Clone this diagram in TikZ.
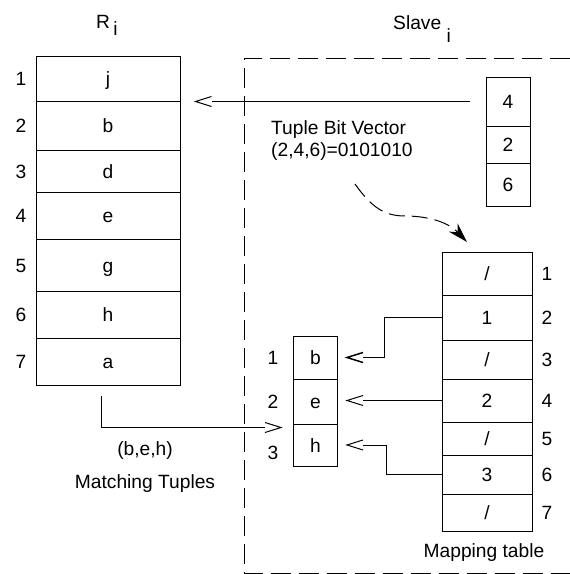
\documentclass[tikz,border=0pt]{standalone}
\usepackage{fontspec}
\setmainfont{Liberation Sans}
\usepackage{tikz}
\usetikzlibrary{arrows.meta}

% open "<" head, the shaft stops at its back
\pgfdeclarearrow{
  name = openvee,
  setup code = {
    \pgfarrowssettipend{0pt}
    \pgfarrowssetlineend{-16pt}
    \pgfarrowssetbackend{-16pt}
    \pgfarrowshullpoint{0pt}{0pt}
    \pgfarrowshullpoint{-16pt}{5pt}
    \pgfarrowshullpoint{-16pt}{-5pt}
  },
  drawing code = {
    \pgfpathmoveto{\pgfqpoint{-16pt}{5pt}}
    \pgfpathlineto{\pgfqpoint{0pt}{0pt}}
    \pgfpathlineto{\pgfqpoint{-16pt}{-5pt}}
    \pgfusepathqstroke
  }
}

\tikzset{
  cell/.style = {draw, line width=1pt, inner sep=0pt, text height=14pt, text depth=0pt},
  lbl/.style = {inner sep=0pt, text height=14pt, text depth=0pt},
  conn/.style = {line width=1pt, -openvee},
  dashbox/.style = {line width=1pt, dash pattern=on 20pt off 8pt},
  bitarrow/.style = {line width=1pt, dash pattern=on 16pt off 7pt, -{Stealth[length=20pt,width=12pt]}}
}

\begin{document}
\begin{tikzpicture}[x=1pt, y=-1pt, font=\fontsize{19.2}{22}\selectfont]
\useasboundingbox (0,0) rectangle (570,574);

% slave area
\draw[dashbox] (570,58) -- (244,58) -- (244,573) -- (570,573);

% titles
\node[anchor=base west, inner sep=0pt] (rtitle) at (96,28) {R\,\raisebox{-7pt}{i}};
\node[anchor=base west, inner sep=0pt] (stitle) at (393,29) {Slave \raisebox{-13pt}{i}};

% relation R_i
\foreach \ya/\yb/\val [count=\n] in {56/101/j, 101/150/b, 150/192/d, 192/239/e, 239/291/g, 291/338/h, 338/385/a}
{
  \node[cell, minimum width=144, minimum height={\yb-\ya}] (r\n) at (108,{(\ya+\yb)/2}) {\val};
  \node[lbl] (rn\n) at (21,{(\ya+\yb)/2}) {\n};
}

% tuple ids sent to the slave
\foreach \ya/\yb/\val [count=\n] in {77/126/4, 126/163/2, 163/206/6}
  \node[cell, minimum width=44, minimum height={\yb-\ya}] (s\n) at (508,{(\ya+\yb)/2}) {\val};

% mapping table
\foreach \ya/\yb/\val [count=\n] in {252/295/{/}, 295/340/1, 340/379/{/}, 379/422/2, 422/455/{/}, 455/494/3, 494/531/{/}}
{
  \node[cell, minimum width=90, minimum height={\yb-\ya}] (m\n) at (487,{(\ya+\yb)/2}) {\val};
  \node[lbl] (mn\n) at (547,{(\ya+\yb)/2}) {\n};
}

% matching tuples
\foreach \ya/\yb/\val/\ly [count=\n] in {336/379/b/357, 379/424/e/401, 424/466/h/452}
{
  \node[cell, minimum width=44, minimum height={\yb-\ya}] (t\n) at (315.5,{(\ya+\yb)/2}) {\val};
  \node[lbl] (tn\n) at (273,\ly) {\n};
}

% texts
\node[anchor=west, inner sep=0pt] (bitvec) at (271,130) {Tuple Bit Vector};
\node[anchor=west, inner sep=0pt] (bitval) at (271,152) {(2,4,6)=0101010};
\node[inner sep=0pt] (beh) at (145,451) {(b,e,h)};
\node[inner sep=0pt] (matching) at (145,484) {Matching Tuples};
\node[inner sep=0pt] (maplabel) at (484,553) {Mapping table};

% connectors
\draw[conn] ([xshift=-16pt]s1.west) -- ([xshift=15pt]r1.east |- s1.west);
\draw[conn, line width=1.5pt] (m2.west) -- ++(-57,0) |- ([xshift=9pt]t1.east);
\draw[conn] (m4.west) -- ([xshift=9pt]t2.east |- m4.west);
\draw[conn] (m6.west) -- ++(-55,0) |- ([xshift=9pt]t3.east);
\draw[conn] ([shift={(-7,10)}]r7.south) |- ([shift={(-12,3)}]t2.south west);

\coordinate (bitfrom) at (355,184);
\coordinate (bitto) at (467,242);
\draw[bitarrow] (bitfrom) .. controls (372,208) and (385,216) .. (405,216)
  .. controls (428,216) and (448,222) .. (bitto);
\end{tikzpicture}
\end{document}
